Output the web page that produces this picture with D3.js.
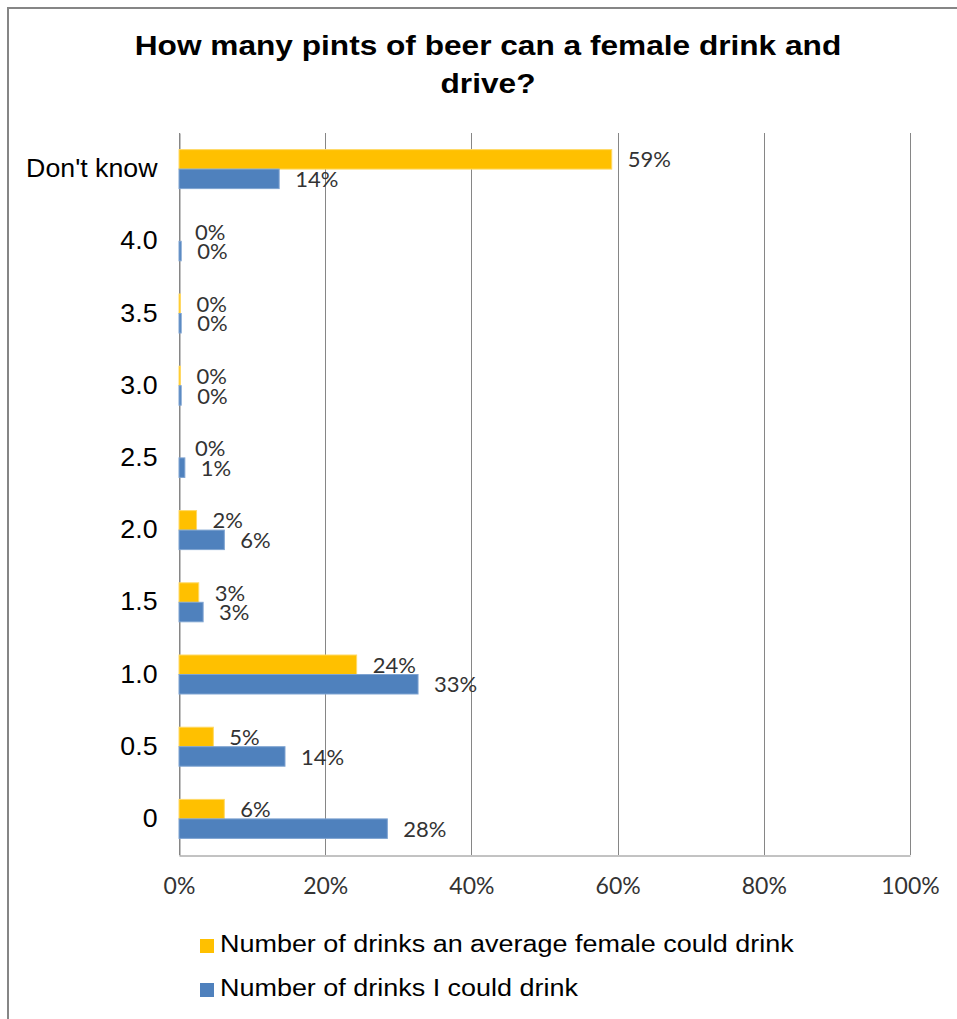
<!DOCTYPE html>
<html>
<head>
<meta charset="utf-8">
<script src="https://cdn.jsdelivr.net/npm/d3@7"></script>
<style>
  html, body { margin: 0; padding: 0; background: #fff; }
  svg { display: block; }
</style>
</head>
<body>
<svg id="chart" width="957" height="1019"></svg>
<script>
// ---- data ----
const categories = ["Don't know", "4.0", "3.5", "3.0", "2.5", "2.0", "1.5", "1.0", "0.5", "0"];
const seriesNames = ["Number of drinks an average female could drink", "Number of drinks I could drink"];
const femaleValues = [0.592, 0.000, 0.002, 0.002, 0.000, 0.024, 0.027, 0.243, 0.047, 0.062];
const meValues     = [0.137, 0.003, 0.003, 0.003, 0.008, 0.062, 0.033, 0.327, 0.145, 0.285];
const xTicks = [0, 0.2, 0.4, 0.6, 0.8, 1.0];
const titleLines = ["How many pints of beer can a female drink and", "drive?"];
const colors = ["#FFC000", "#4F81BD"];
const strokes = ["#FFD966", "#7EA3D1"];

const svg = d3.select("#chart");

// outer chart border
svg.append("rect")
  .attr("x", 8).attr("y", 8).attr("width", 1000).attr("height", 1100)
  .attr("fill", "none").attr("stroke", "#868686").attr("stroke-width", 2);

const x = d3.scaleLinear().domain([0, 1]).range([179, 910]);
const y = d3.scaleBand().domain(categories).range([133, 855]);
const sub = d3.scaleBand().domain([0, 1])
  .range([y.bandwidth() / 2 - 19.5, y.bandwidth() / 2 + 19.5]);

// gridlines
svg.append("g").selectAll("line").data(xTicks).join("line")
  .attr("x1", d => Math.round(x(d)) + 0.5).attr("x2", d => Math.round(x(d)) + 0.5)
  .attr("y1", 133).attr("y2", 855)
  .attr("stroke", "#868686").attr("stroke-width", 1);

// bottom axis (line + labels)
const xAxis = svg.append("g").attr("transform", "translate(0,855.5)")
  .call(d3.axisBottom(x).tickValues(xTicks).tickFormat(d3.format(".0%")).tickSize(0).tickPadding(22));
xAxis.select(".domain").attr("stroke", "#868686");
xAxis.selectAll("text")
  .attr("font-family", "Lato, 'Open Sans', sans-serif")
  .attr("font-size", 23).attr("fill", "#333");

// left axis
const ySx = 1.07;
const yAxis = svg.append("g").attr("transform", "translate(179.5,0)")
  .call(d3.axisLeft(y).tickSize(0).tickPadding(22));
yAxis.select(".domain").attr("stroke", "#868686");
yAxis.selectAll("text")
  .attr("x", -22 / ySx)
  .attr("transform", `scale(${ySx},1)`)
  .attr("font-family", "'Liberation Sans', Arial, sans-serif")
  .attr("font-size", 25).attr("fill", "#000");

// bars
const series = [femaleValues, meValues];
const rows = categories.map((c, i) => ({ c, vals: series.map(s => s[i]) }));
const groups = svg.append("g").selectAll("g").data(rows).join("g")
  .attr("transform", d => `translate(0,${y(d.c)})`);

groups.selectAll("rect").data(d => d.vals.map((v, k) => ({ v, k }))).join("rect")
  .attr("x", x(0))
  .attr("y", d => sub(d.k))
  .attr("width", d => Math.max(x(d.v) - x(0), 0))
  .attr("height", sub.bandwidth())
  .attr("fill", d => colors[d.k])
  .attr("stroke", d => d.v > 0 ? strokes[d.k] : "none")
  .attr("stroke-width", 1);

groups.selectAll("text").data(d => d.vals.map((v, k) => ({ v, k }))).join("text")
  .attr("x", d => x(d.v) + 16)
  .attr("y", d => sub(d.k) + sub.bandwidth() / 2 + 2.5)
  .attr("dominant-baseline", "middle")
  .attr("font-family", "Lato, 'Open Sans', sans-serif")
  .attr("font-size", 22).attr("fill", "#333")
  .text(d => d3.format(".0%")(d.v));

// title
const tSx = 1.13;
svg.append("g").selectAll("text").data(titleLines).join("text")
  .attr("transform", (d, i) => `translate(488,${48 + i * 38}) scale(${tSx},1)`)
  .attr("text-anchor", "middle").attr("dominant-baseline", "middle")
  .attr("font-family", "'Liberation Sans', Arial, sans-serif")
  .attr("font-weight", "bold").attr("font-size", 28).attr("fill", "#000")
  .text(d => d);

// legend
const lSx = 1.1;
const leg = svg.append("g").selectAll("g").data(seriesNames).join("g")
  .attr("transform", (d, i) => `translate(200,${946 + i * 44})`);
leg.append("rect").attr("x", 0).attr("y", -7).attr("width", 14).attr("height", 14)
  .attr("fill", (d, i) => colors[i]);
leg.append("text")
  .attr("transform", `translate(20,0) scale(${lSx},1)`)
  .attr("dominant-baseline", "middle")
  .attr("font-family", "'Liberation Sans', Arial, sans-serif")
  .attr("font-size", 24.5).attr("fill", "#000")
  .text(d => d);
</script>
</body>
</html>
